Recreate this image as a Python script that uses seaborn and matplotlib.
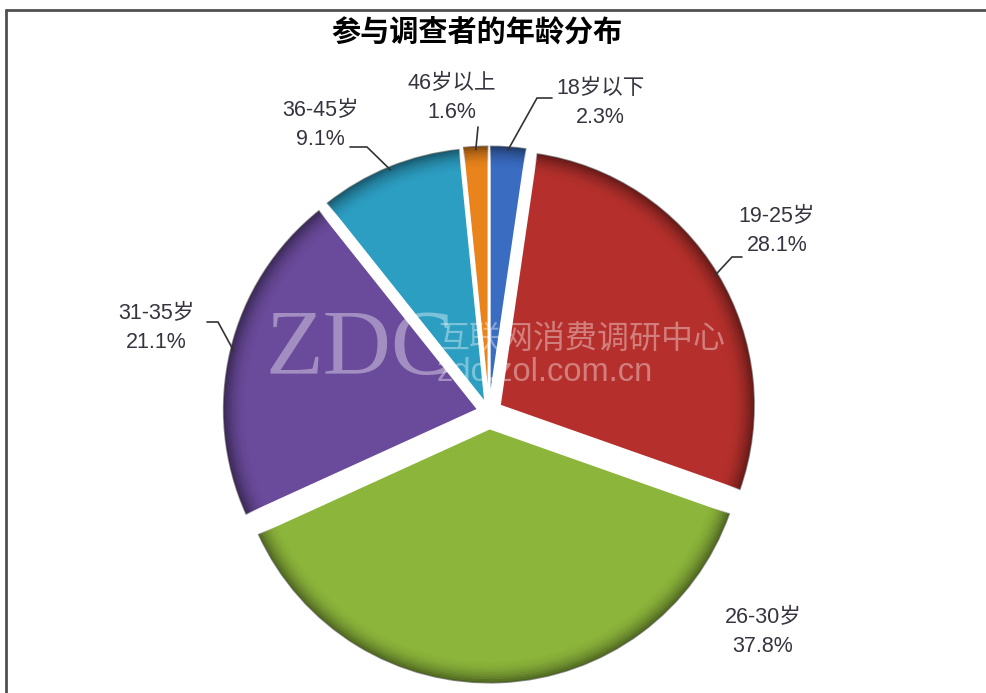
import numpy as np
import matplotlib
matplotlib.use('Agg')
import matplotlib.pyplot as plt
from matplotlib.patches import Wedge
from matplotlib.lines import Line2D
import seaborn as sns

# data (clockwise from 12 o'clock)
age_groups = ['18岁以下', '19-25岁', '26-30岁', '31-35岁', '36-45岁', '46岁以上']
shares = [2.3, 28.1, 37.8, 21.1, 9.1, 1.6]
slice_colors = ['#3a6cc2', '#b5302c', '#8cb53b', '#6a4a9b', '#2c9ec2', '#e9841c']
explode = [0.045, 0.05, 0.065, 0.045, 0.04, 0.045]

# layout in image pixels: label centre, leader elbow, leader end
label_pos = [(600, 103), (777, 231), (763, 632), (156, 328), (320, 125), (452, 98)]
leader_elbow = [(537, 98), (732, 257), None, (218, 322), (367, 147), (478, 127)]
leader_end = [(552, 98), (742, 257), None, (207, 322), (350, 147), (478, 127)]

W, H = 987, 693
CX, CY, R = 489, 412, 255


def px(x, y):
    # image pixel -> data units (pie radius = 1)
    return (x - CX) / R, (CY - y) / R


sns.set_theme(style='white')
plt.rcParams['font.family'] = ['Liberation Sans', 'Noto Sans CJK SC', 'DejaVu Sans']

fig = plt.figure(figsize=(W / 100, H / 100), dpi=100)
ax = fig.add_axes([0, 0, 1, 1])

wedges, _ = ax.pie(shares, explode=explode, colors=slice_colors, startangle=90,
                   counterclock=False, radius=1, center=(0, 0),
                   wedgeprops=dict(edgecolor='white', linewidth=1.2))

# darker rim to mimic the bevelled look
n_rings = 10
for w in wedges:
    for k in range(n_rings):
        r_out = 1 - k * 0.009
        a = 0.45 * ((n_rings - k) / n_rings) ** 2
        ax.add_patch(Wedge(w.center, r_out, w.theta1, w.theta2, width=0.009,
                           facecolor='black', alpha=a, edgecolor='none'))

# labels and leader lines
for w, name, val, pos, elb, end in zip(wedges, age_groups, shares,
                                       label_pos, leader_elbow, leader_end):
    tx, ty = px(*pos)
    ax.text(tx, ty, f'{name}\n{val}%', ha='center', va='center', fontsize=15.5,
            color='#35343f', linespacing=1.5)
    if elb is None:
        continue
    mid = np.deg2rad((w.theta1 + w.theta2) / 2)
    x0 = w.center[0] + 0.985 * np.cos(mid)
    y0 = w.center[1] + 0.985 * np.sin(mid)
    ex, ey = px(*elb)
    nx, ny = px(*end)
    ax.plot([x0, ex, nx], [y0, ey, ny], color='#333333', lw=1.2,
            solid_joinstyle='miter')

# watermark
wx, wy = px(266, 352)
ax.text(wx, wy, 'ZDC', fontsize=68, family='Liberation Serif', color='white',
        alpha=0.38, ha='left', va='center')
wx, wy = px(437, 339)
ax.text(wx, wy, '互联网消费调研中心', fontsize=23, family=['Noto Sans CJK SC'],
        color='white', alpha=0.38, ha='left', va='center')
wx, wy = px(437, 373)
ax.text(wx, wy, 'zdc.zol.com.cn', fontsize=23.5, family='Liberation Sans',
        color='white', alpha=0.38, ha='left', va='center')

# title
tx, ty = px(477, 32)
ax.text(tx, ty, '参与调查者的年龄分布', fontsize=21, fontweight='bold',
        family=['Noto Sans CJK SC'], color='black', ha='center', va='center')

x_lo, y_hi = px(0, 0)
x_hi, y_lo = px(W, H)
ax.set_xlim(x_lo, x_hi)
ax.set_ylim(y_lo, y_hi)
ax.set_aspect('equal')
ax.axis('off')

# frame of the original screenshot (top and left edges)
fig.add_artist(Line2D([6 / W, 1], [1 - 10 / H, 1 - 10 / H], color='#505050', lw=2))
fig.add_artist(Line2D([6 / W, 6 / W], [0, 1 - 10 / H], color='#505050', lw=2))

fig.savefig('out.png', dpi=100, facecolor='white')
